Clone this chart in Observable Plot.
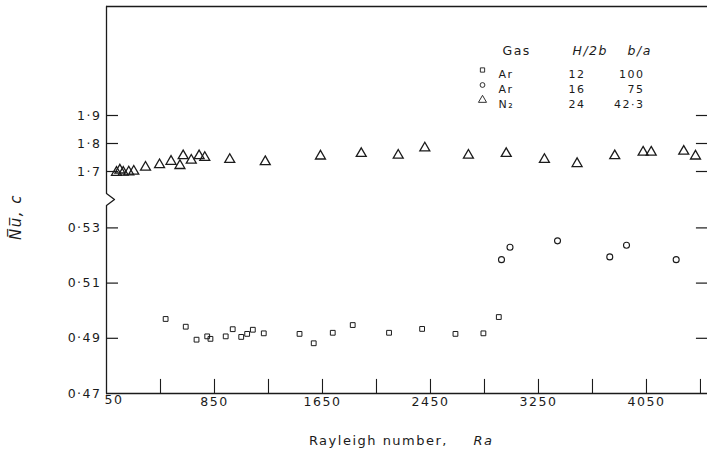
<!DOCTYPE html>
<html>
<head>
<meta charset="utf-8">
<script src="https://cdn.jsdelivr.net/npm/d3@7"></script>
<script src="https://cdn.jsdelivr.net/npm/@observablehq/plot@0.6"></script>
<style>
  html, body { margin: 0; padding: 0; background: #fff; }
</style>
</head>
<body>
<div id="chart"></div>
<script>
// ---- data ----
// Ar, H/2b = 12, b/a = 100 (squares)
const squareRa = [488, 637, 717, 796, 820, 933, 985, 1048, 1092, 1134, 1215, 1480, 1585, 1726, 1874, 2143, 2388, 2635, 2842, 2956];
const squareNu = [0.4970, 0.4942, 0.4895, 0.4907, 0.4898, 0.4907, 0.4933, 0.4905, 0.4916, 0.4931, 0.4918, 0.4916, 0.4882, 0.4920, 0.4948, 0.4920, 0.4934, 0.4916, 0.4918, 0.4977];
// Ar, H/2b = 16, b/a = 75 (circles)
const circleRa = [2976, 3039, 3391, 3778, 3902, 4270];
const circleNu = [0.5185, 0.5230, 0.5253, 0.5195, 0.5237, 0.5185];
// N2, H/2b = 24, b/a = 42.3 (triangles)
const triangleRa = [124, 149, 174, 215, 252, 339, 443, 528, 594, 618, 678, 736, 778, 963, 1226, 1635, 1937, 2211, 2408, 2731, 3011, 3294, 3536, 3815, 4025, 4085, 4326, 4413];
const triangleNu = [1.681, 1.705, 1.683, 1.689, 1.701, 1.715, 1.724, 1.736, 1.721, 1.756, 1.740, 1.756, 1.750, 1.743, 1.735, 1.755, 1.764, 1.758, 1.784, 1.758, 1.764, 1.743, 1.728, 1.756, 1.769, 1.769, 1.772, 1.755];

// ticks
const xLabelTicks = [850, 1650, 2450, 3250, 4050];
const xOriginLabel = [50];
const xMinorTicks = [450, 850, 1250, 1650, 2050, 2450, 2850, 3250, 3650, 4050, 4450];
const yTicks = [0.47, 0.49, 0.51, 0.53, 1.7, 1.8, 1.9];
const yTickLabels = ["0·47", "0·49", "0·51", "0·53", "1·7", "1·8", "1·9"];
const yInnerTicks = [0.49, 0.51, 0.53, 1.7, 1.8, 1.9];

// legend
const legendSymbol = ["square", "circle", "triangle"];
const legendGas = ["Ar", "Ar", "N₂"];
const legendH = ["12", "16", "24"];
const legendBA = ["100", "75", "42·3"];

// broken axis: piecewise scale (lower band 0.47–0.53, upper band 1.7–)
const yTop = 2.289;
const yBreakDomain = [0.47, 0.53, 1.7, 1.9, yTop];
// left axis with break notch
const axisRa = [50, 50, 109, 50, 50];
const axisNu = [yTop, 1.243, 1.118, 0.993, 0.47];

const ink = "#1b1b1b";
const squares = squareRa.map((ra, i) => ({ra, nu: squareNu[i]}));
const circles = circleRa.map((ra, i) => ({ra, nu: circleNu[i]}));
const triangles = triangleRa.map((ra, i) => ({ra, nu: triangleNu[i]}));
const axisPts = axisRa.map((ra, i) => ({ra, nu: axisNu[i]}));

const legendMarks = [];
legendSymbol.forEach((s, i) => {
  const dy = 63.5 + 15 * i;
  legendMarks.push(
    Plot.dot([s], {frameAnchor: "top-left", dx: 376, dy, symbol: s, r: s === "triangle" ? 3 : 2.4, stroke: ink, strokeWidth: 0.9, fill: "none"}),
    Plot.text([legendGas[i]], {frameAnchor: "top-left", dx: 392, dy, text: d => d, textAnchor: "start", fontSize: 11, fill: ink}),
    Plot.text([legendH[i]], {frameAnchor: "top-left", dx: 462, dy, text: d => d, fontSize: 11, fill: ink}),
    Plot.text([legendBA[i]], {frameAnchor: "top-left", dx: 538, dy, text: d => d, textAnchor: "end", fontSize: 11, fill: ink})
  );
});

const chart = Plot.plot({
  width: 707,
  height: 455,
  marginLeft: 106,
  marginRight: 0,
  marginTop: 6,
  marginBottom: 62,
  style: {fontFamily: "DejaVu Sans", fontSize: "12.5px", letterSpacing: "1.5px", color: ink, background: "#fff"},
  x: {type: "linear", domain: [50, 4502]},
  y: {type: "linear", domain: yBreakDomain, range: [393, 227.4, 171, 115, 6]},
  marks: [
    // frame lines
    Plot.ruleY([yTop], {stroke: ink, strokeWidth: 1.3}),
    Plot.ruleY([0.47], {stroke: ink, strokeWidth: 1.3}),
    Plot.line(axisPts, {x: "ra", y: "nu", stroke: ink, strokeWidth: 1.3}),
    // inward ticks
    Plot.ruleY(yInnerTicks, {x1: 50, x2: 139, stroke: ink, strokeWidth: 1.2}),
    Plot.ruleY(yInnerTicks, {x1: 4420, x2: 4502, stroke: ink, strokeWidth: 1.2}),
    Plot.ruleX(xMinorTicks, {y1: 0.47, y2: 0.4751, stroke: ink, strokeWidth: 1.1}),
    // tick labels
    Plot.axisY({ticks: yTicks, tickSize: 0, tickPadding: 5, tickFormat: d => yTickLabels[yTicks.indexOf(d)], label: null, fontSize: 12.5, fill: ink}),
    Plot.axisX({ticks: xLabelTicks, tickSize: 0, tickPadding: 4, tickFormat: d3.format("d"), label: null, fontSize: 12.5, fill: ink}),
    Plot.text(xOriginLabel, {x: d => d, frameAnchor: "bottom", dy: 10.5, dx: -2, text: d => String(d), textAnchor: "start", fontSize: 12.5, fill: ink}),
    // data
    Plot.dot(squares, {x: "ra", y: "nu", symbol: "square", r: 2.7, stroke: ink, strokeWidth: 1, fill: "none"}),
    Plot.dot(circles, {x: "ra", y: "nu", symbol: "circle", r: 3, stroke: ink, strokeWidth: 1.1, fill: "none"}),
    Plot.dot(triangles, {x: "ra", y: "nu", symbol: "triangle", r: 3.7, stroke: ink, strokeWidth: 1.3, fill: "none"}),
    // legend
    Plot.text(["Gas"], {frameAnchor: "top-left", dx: 396, dy: 40, text: d => d, fontSize: 12.5, fill: ink}),
    Plot.text(["H/2b"], {frameAnchor: "top-left", dx: 466, dy: 40, text: d => d, fontSize: 12.5, fontStyle: "italic", fill: ink}),
    Plot.text(["b/a"], {frameAnchor: "top-left", dx: 521, dy: 40, text: d => d, fontSize: 12.5, fontStyle: "italic", fill: ink}),
    ...legendMarks,
    // axis titles
    Plot.text(["Rayleigh number,"], {frameAnchor: "bottom", dx: 41, dy: 51, text: d => d, textAnchor: "end", fontSize: 13, fill: ink}),
    Plot.text(["Ra"], {frameAnchor: "bottom", dx: 66.5, dy: 51, text: d => d, textAnchor: "start", fontSize: 13, fontStyle: "italic", fill: ink}),
    Plot.text(["N\u0305u\u0305, c"], {frameAnchor: "left", rotate: -90, dx: -90, dy: 40, text: d => d, fontSize: 15, fontStyle: "italic", fill: ink})
  ]
});
document.getElementById("chart").appendChild(chart);
</script>
</body>
</html>
